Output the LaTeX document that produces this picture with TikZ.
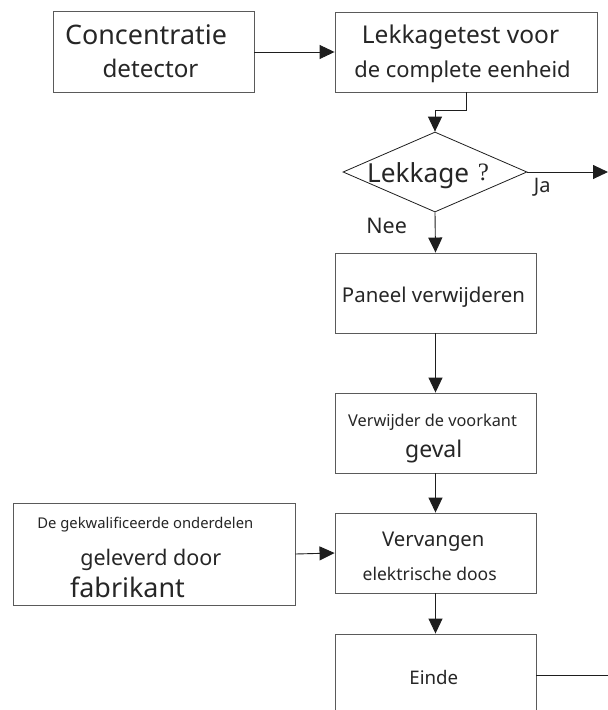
\documentclass[tikz,border=0pt]{standalone}
\usepackage{fontspec}
\setmainfont{Noto Sans}
\newfontfamily\qfont{Liberation Serif}
\usetikzlibrary{arrows.meta,shapes.geometric}
\definecolor{boxc}{HTML}{5A5A5A}
\definecolor{linec}{HTML}{1E1E1E}
\definecolor{textc}{HTML}{262626}
\tikzset{
  box/.style={draw=boxc, line width=0.9pt, minimum width=201pt, minimum height=80pt, inner sep=0pt},
  arr/.style={draw=linec, line width=0.9pt, -{Triangle[length=15pt,width=14pt]}},
  plain/.style={draw=linec, line width=0.9pt},
  txt/.style={inner sep=0pt, anchor=base, text=textc},
}
\newcommand{\fs}[1]{\fontsize{#1}{#1}\selectfont}
\begin{document}
\begin{tikzpicture}[x=1pt,y=-1pt]
\useasboundingbox[fill=white] (0,0) rectangle (608,710);
% boxes
\node[box, minimum width=201pt, minimum height=81pt] (c1) at (153.5,52) {};
\node[box, minimum width=262pt] (c2) at (466,52) {};
\node[diamond, draw=linec, line width=0.8pt, minimum width=184pt, minimum height=80pt, inner sep=0pt] (d) at (435,172) {};
\node[box] (p1) at (435.5,293) {};
\node[box] (p2) at (435.5,433) {};
\node[box] (p3) at (435.5,553) {};
\node[box] (p4) at (435.5,674) {};
\node[box, minimum width=282pt, minimum height=102pt] (q) at (154,554) {};
% texts
\node[txt, font=\fs{26.9}] (t1a) at (146,44) {Concentratie};
\node[txt, font=\fs{24.2}] (t1b) at (150.5,77.5) {detector};
\node[txt, font=\fs{24.5}] (t2a) at (460.5,43.5) {Lekkagetest voor};
\node[txt, font=\fs{21.9}] (t2b) at (462.5,77.3) {de complete eenheid};
\node[txt, font=\fs{26.2}] (td) at (418.2,182.3) {Lekkage};
\node[txt, font=\fs{25}] (tq) at (483.5,180) {\qfont ?};
\node[txt, font=\fs{20}] (tja) at (542.2,192.7) {Ja};
\node[txt, font=\fs{21.5}] (tnee) at (386.7,233.3) {Nee};
\node[txt, font=\fs{20.4}] (t3) at (433.5,302.7) {Paneel verwijderen};
\node[txt, font=\fs{16.3}] (t4a) at (432.5,426) {Verwijder de voorkant};
\node[txt, font=\fs{23}] (t4b) at (433.7,457.5) {geval};
\node[txt, font=\fs{20.3}] (t5a) at (433.3,546.7) {Vervangen};
\node[txt, font=\fs{17.5}] (t5b) at (429.7,580) {elektrische doos};
\node[txt, font=\fs{18.7}] (t6) at (433.8,684) {Einde};
\node[txt, font=\fs{14.8}] (tqa) at (145.3,528.3) {De gekwalificeerde onderdelen};
\node[txt, font=\fs{21.5}] (tqb) at (150.8,565) {geleverd door};
\node[txt, font=\fs{26.9}] (tqc) at (127.5,597.3) {fabrikant};
% free ends
\coordinate (jaend) at (608,172);
\coordinate (eindeend) at (608,675);
% connectors
\draw[arr] (c1.east) -- (c2.west);
\draw[arr] (c2.south) -- ++(0,18) -| (d.north);
\draw[arr] (d.east) -- (jaend);
\draw[arr] (d.south) -- (p1.north);
\draw[arr] (p1.south) -- (p2.north);
\draw[arr] (p2.south) -- (p3.north);
\draw[arr] (p3.south) -- (p4.north);
\draw[arr] (q.east) -- (p3.west);
\draw[plain] (p4.east |- eindeend) -- (eindeend);
\end{tikzpicture}
\end{document}
